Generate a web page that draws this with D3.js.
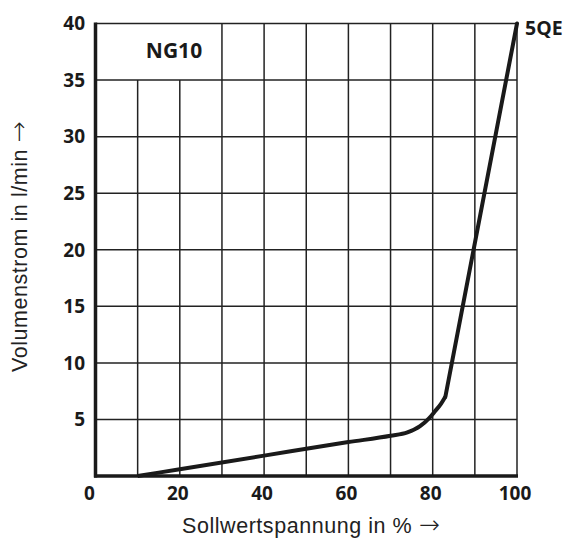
<!DOCTYPE html>
<html>
<head>
<meta charset="utf-8">
<script src="https://cdn.jsdelivr.net/npm/d3@7"></script>
<style>
  body { margin: 0; background: #fff; }
  svg text { font-family: "Open Sans", "Noto Sans", sans-serif; fill: #1a1a1a; }
  svg text.title { font-family: "Liberation Sans", Arial, sans-serif; fill: #222; letter-spacing: 0.55px; }
  svg tspan.arrow { font-family: "DejaVu Sans", sans-serif; font-weight: 200; letter-spacing: 0; }
</style>
</head>
<body>
<svg id="chart" width="566" height="545"></svg>
<script>
// data
var xTicks = [0, 20, 40, 60, 80, 100];
var yTicks = [5, 10, 15, 20, 25, 30, 35, 40];
var xGrid = [10, 20, 30, 40, 50, 60, 70, 80, 90, 100];
var yGrid = [5, 10, 15, 20, 25, 30, 35, 40];
// the NG10 field is left open between these grid lines
var labelBox = { x0: 0, x1: 30, y0: 35, y1: 40 };

// curved part of the characteristic
var bendPoints = [
  [10, 0], [20, 0.6], [40, 1.8], [60, 3.0], [70, 3.55],
  [74, 3.85], [77, 4.4], [79, 5.05], [80.5, 5.7], [82, 6.4], [83, 7.0]
];
// straight rise to the end
var risePoints = [[83, 7.0], [100, 40]];

var svg = d3.select("#chart");
var x = d3.scaleLinear().domain([0, 100]).range([95.5, 517]);
var y = d3.scaleLinear().domain([0, 40]).range([476, 23.5]);

// grid
svg.append("g").selectAll("line")
  .data(xGrid)
  .enter().append("line")
  .attr("x1", function(d){ return x(d); })
  .attr("x2", function(d){ return x(d); })
  .attr("y1", y(0))
  .attr("y2", function(d){
    return (d > labelBox.x0 && d < labelBox.x1) ? y(labelBox.y0) : y(40);
  })
  .attr("stroke", "#222")
  .attr("stroke-width", 1.5);

svg.append("g").selectAll("line")
  .data(yGrid)
  .enter().append("line")
  .attr("x1", x(0))
  .attr("x2", x(100))
  .attr("y1", function(d){ return y(d); })
  .attr("y2", function(d){ return y(d); })
  .attr("stroke", "#222")
  .attr("stroke-width", 1.5);

// thick axes
svg.append("line")
  .attr("x1", x(0)).attr("x2", x(0))
  .attr("y1", y(0) + 1.5).attr("y2", y(40) - 1)
  .attr("stroke", "#1a1a1a").attr("stroke-width", 3.5);
svg.append("line")
  .attr("x1", x(0) - 1.5).attr("x2", x(100) + 1)
  .attr("y1", y(0)).attr("y2", y(0))
  .attr("stroke", "#1a1a1a").attr("stroke-width", 3.5);

// tick labels
svg.append("g").selectAll("text")
  .data(xTicks)
  .enter().append("text")
  .attr("x", function(d){ return d === 0 ? x(d) - 6 : x(d) - 2; })
  .attr("y", 500)
  .attr("text-anchor", "middle")
  .attr("font-size", 19)
  .attr("font-weight", "bold")
  .text(function(d){ return d; });

svg.append("g").selectAll("text")
  .data(yTicks)
  .enter().append("text")
  .attr("x", 85)
  .attr("y", function(d){ return y(d) + 6.8; })
  .attr("text-anchor", "end")
  .attr("font-size", 19)
  .attr("font-weight", "bold")
  .text(function(d){ return d; });

// axis titles
var xTitle = svg.append("text")
  .attr("class", "title")
  .attr("x", 182)
  .attr("y", 533)
  .attr("font-size", 21.5);
xTitle.append("tspan").text("Sollwertspannung in % ");
xTitle.append("tspan").attr("class", "arrow").attr("font-size", 25).text("\u2192");

var yTitle = svg.append("text")
  .attr("class", "title")
  .attr("transform", "translate(27,372) rotate(-90)")
  .attr("font-size", 21.5);
yTitle.append("tspan").text("Volumenstrom in l/min ");
yTitle.append("tspan").attr("class", "arrow").attr("font-size", 25).text("\u2192");

// labels
svg.append("text")
  .attr("x", 174).attr("y", 58)
  .attr("text-anchor", "middle")
  .attr("font-size", 21).attr("font-weight", "bold")
  .text("NG10");

svg.append("text")
  .attr("x", 525).attr("y", 35)
  .attr("font-size", 19.5).attr("font-weight", "bold")
  .text("5QE");

// characteristic curve
var bend = d3.line()
  .x(function(d){ return x(d[0]); })
  .y(function(d){ return y(d[1]); })
  .curve(d3.curveMonotoneX);
var rise = d3.line()
  .x(function(d){ return x(d[0]); })
  .y(function(d){ return y(d[1]); });

svg.append("path")
  .attr("d", bend(bendPoints))
  .attr("fill", "none")
  .attr("stroke", "#1a1a1a")
  .attr("stroke-width", 4)
  .attr("stroke-linejoin", "round");
svg.append("path")
  .attr("d", rise(risePoints))
  .attr("fill", "none")
  .attr("stroke", "#1a1a1a")
  .attr("stroke-width", 4)
  .attr("stroke-linecap", "round");
</script>
</body>
</html>
